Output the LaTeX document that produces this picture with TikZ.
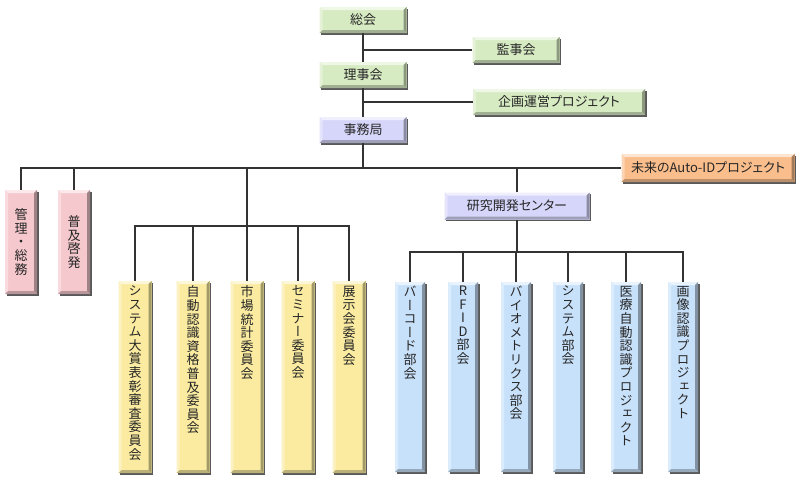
\documentclass[tikz,border=0pt]{standalone}
\usepackage{fontspec}
\newfontfamily\hjp[RawFeature=+palt]{Noto Sans CJK JP}
\newfontfamily\vjp[RawFeature=+vert]{Noto Sans CJK JP}
\usetikzlibrary{shadows}

\definecolor{grn}{HTML}{D7EBC3}
\definecolor{lav}{HTML}{D6D6FA}
\definecolor{org}{HTML}{FABE8C}
\definecolor{pnk}{HTML}{F5C8CD}
\definecolor{ylw}{HTML}{FAEBA0}
\definecolor{blu}{HTML}{C8E1FA}

% one character per line
\makeatletter
\def\vstk@end{}
\def\vstk#1{\vstk@a#1\vstk@end}
\def\vstk@a#1{\ifx\vstk@end#1\else\hbox to\hsize{\hss#1\hss}\expandafter\vstk@a\fi}
\newcommand\toptext[1]{\parbox[c][182pt][t]{28pt}{\expandafter\vstk\expandafter{#1}}}
\newcommand\midtext[1]{\parbox{28pt}{\expandafter\vstk\expandafter{#1}}}
\makeatother

\tikzset{
  bevel/.style={path picture={
    \fill[#1!40!white] (path picture bounding box.north west) -- (path picture bounding box.north east)
      -- ([shift={(-3pt,-3pt)}]path picture bounding box.north east) -- ([shift={(3pt,-3pt)}]path picture bounding box.north west) -- cycle;
    \fill[#1!65!white] (path picture bounding box.north west) -- (path picture bounding box.south west)
      -- ([shift={(3pt,3pt)}]path picture bounding box.south west) -- ([shift={(3pt,-3pt)}]path picture bounding box.north west) -- cycle;
    \fill[#1!65!black] (path picture bounding box.north east) -- (path picture bounding box.south east)
      -- ([shift={(-3pt,3pt)}]path picture bounding box.south east) -- ([shift={(-3pt,-3pt)}]path picture bounding box.north east) -- cycle;
    \fill[#1!75!black] (path picture bounding box.south west) -- (path picture bounding box.south east)
      -- ([shift={(-3pt,3pt)}]path picture bounding box.south east) -- ([shift={(3pt,3pt)}]path picture bounding box.south west) -- cycle;
  }},
  orgbox/.style={rectangle, inner sep=0pt, fill=#1, bevel=#1, text=black!85,
    drop shadow={shadow xshift=1.5pt, shadow yshift=-1.5pt, fill=black!65, opacity=1}},
  widebox/.style={orgbox=#1, minimum width=87pt, minimum height=26pt,
    font=\hjp\fontsize{13}{15}\selectfont},
  tallbox/.style={orgbox=#1, minimum width=33pt, minimum height=192pt,
    font=\vjp\fontsize{13}{13.6}\selectfont},
  conn/.style={line width=1.3pt, black!80}
}

\begin{document}
\begin{tikzpicture}[x=1pt, y=-1pt]
  \useasboundingbox (0,0) rectangle (800,480);

  % top of the tree
  \node[widebox=grn] (soukai) at (363,20) {総会};
  \node[widebox=grn] (kanji) at (516,50) {監事会};
  \node[widebox=grn] (riji) at (363,75) {理事会};
  \node[widebox=grn, minimum width=172pt] (kikaku) at (559,102) {企画運営プロジェクト};
  \node[widebox=lav] (jimu) at (363,130) {事務局};
  \node[widebox=org, minimum width=173pt, minimum height=28pt] (autoid) at (708,168) {未来のAuto-IDプロジェクト};
  \node[widebox=lav, minimum width=145pt, minimum height=27pt] (kenkyu) at (517,206) {研究開発センター};

  \node[tallbox=pnk, minimum width=32pt, minimum height=104pt] (kanri) at (21,242) {\midtext{管理・総務}};
  \node[tallbox=pnk, minimum width=32pt, minimum height=104pt] (fukyu) at (74,242) {\midtext{普及啓発}};

  % committees
  \foreach \i/\x/\t in {1/135/システム大賞表彰審査委員会, 2/193/自動認識資格普及委員会,
      3/247/市場統計委員会, 4/298/セミナー委員会, 5/349/展示会委員会}{
    \node[tallbox=ylw] (iin\i) at (\x,377) {\toptext{\t}};
  }

  % working groups
  \foreach \i/\x/\t in {1/410/バーコード部会, 2/463/RFID部会, 3/516/バイオメトリクス部会,
      4/568/システム部会, 5/626/医療自動認識プロジェクト, 6/683/画像認識プロジェクト}{
    \node[tallbox=blu, minimum width=30pt, minimum height=190pt] (bu\i) at (\x,377) {\toptext{\t}};
  }

  \coordinate (bus) at (363,168);
  \coordinate (ybus) at (247,226);
  \coordinate (bbus) at (517,252);

  \draw[conn] (soukai) -- (riji);
  \draw[conn] (riji) -- (jimu);
  \draw[conn] (kanji.west) -- (kanji.west -| soukai.south);
  \draw[conn] (kikaku.west) -- (kikaku.west -| riji.south);
  \draw[conn] (jimu) -- (bus);
  \draw[conn] (kanri.north) |- (autoid.west);
  \draw[conn] (fukyu.north) -- (fukyu.north |- bus);
  \draw[conn] (kenkyu.north) -- (kenkyu.north |- bus);
  \draw[conn] (iin3.north) -- (iin3.north |- bus);
  \draw[conn] (iin1.north) |- (ybus) -| (iin5.north);
  \foreach \i in {2,4}
    \draw[conn] (iin\i.north) -- (iin\i.north |- ybus);
  \draw[conn] (kenkyu.south) -- (bbus);
  \draw[conn] (bu1.north) |- (bbus) -| (bu6.north);
  \foreach \i in {2,...,5}
    \draw[conn] (bu\i.north) -- (bu\i.north |- bbus);
\end{tikzpicture}
\end{document}
